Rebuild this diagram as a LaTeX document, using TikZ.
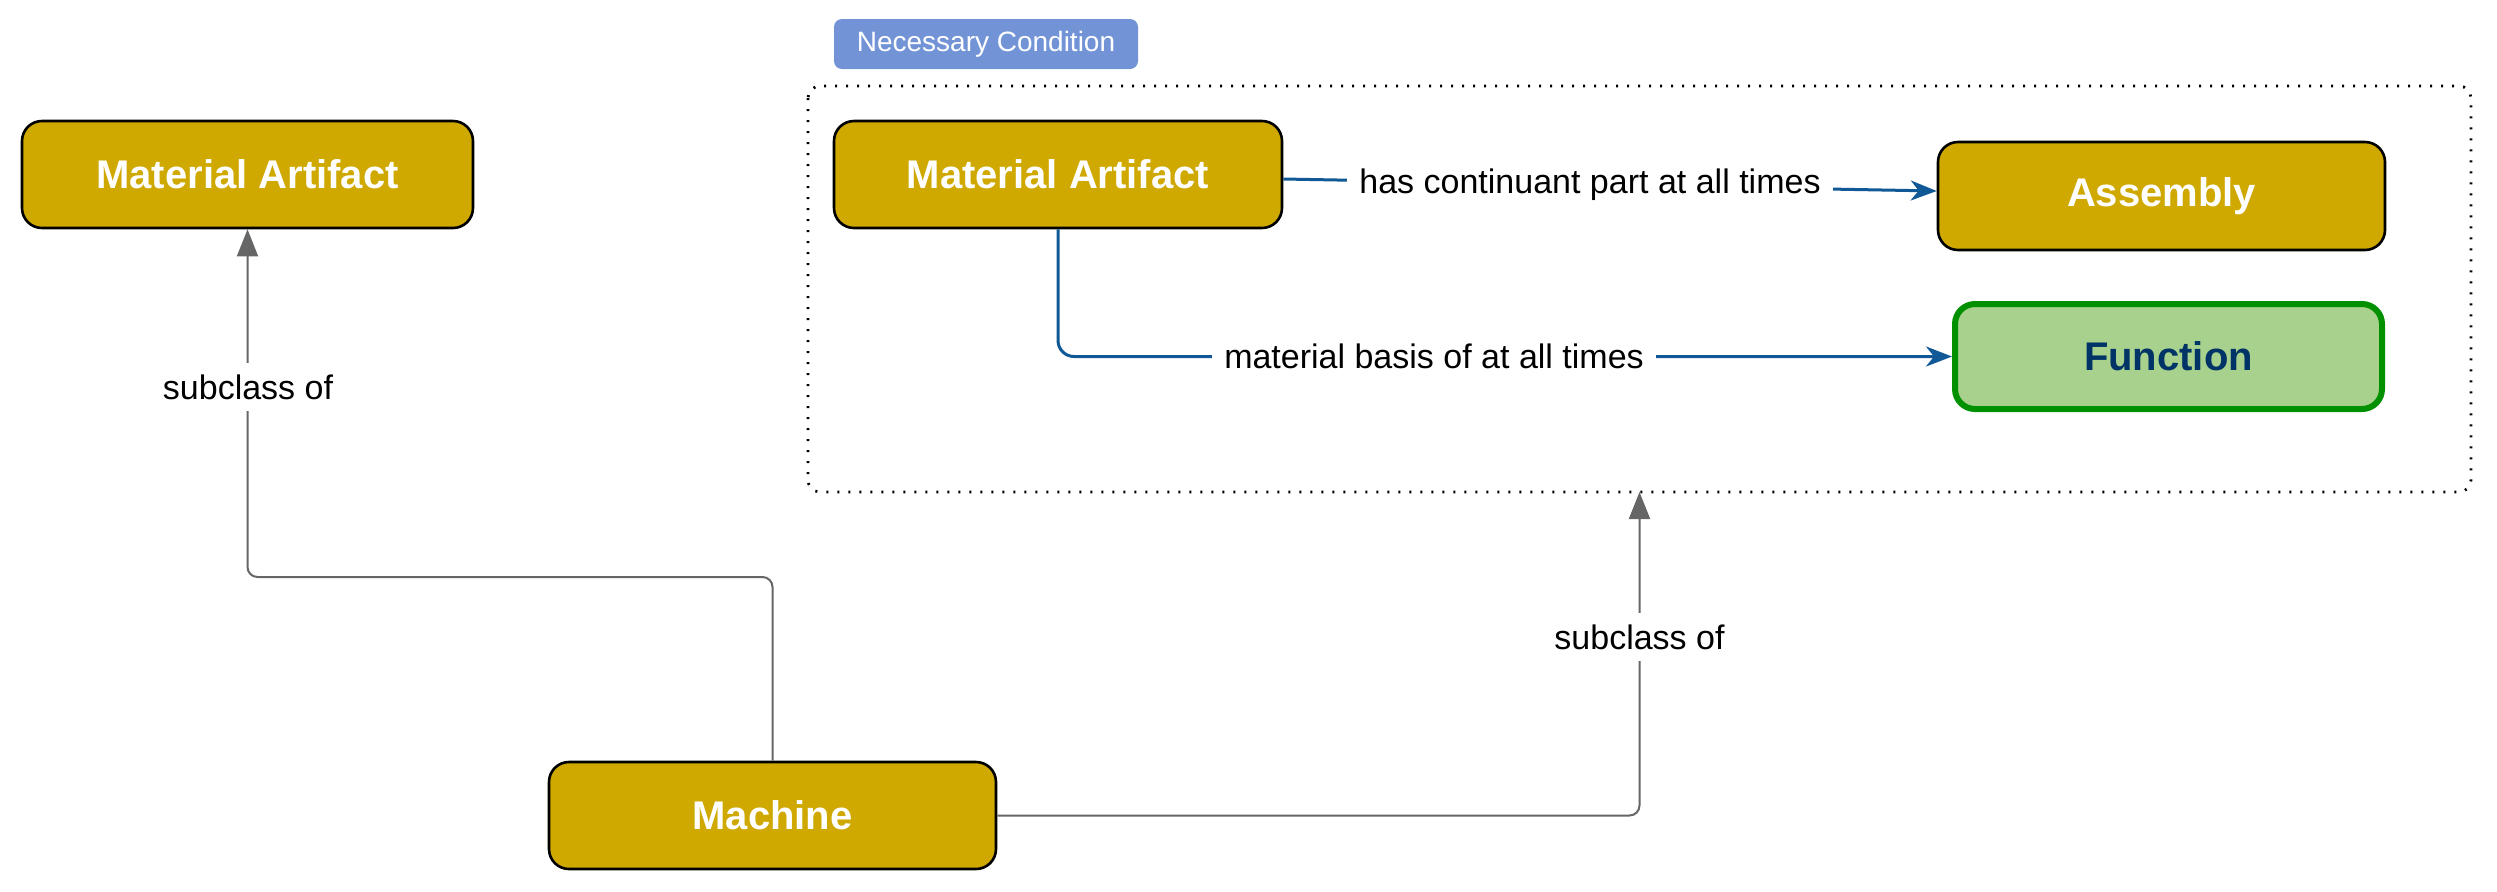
\documentclass[tikz,border=0pt]{standalone}
\usepackage{fontspec}
\setmainfont{Liberation Sans}
\usetikzlibrary{arrows.meta,calc}
\definecolor{gold}{RGB}{207,168,0}
\definecolor{fnfill}{RGB}{169,209,142}
\definecolor{fnborder}{RGB}{0,144,0}
\definecolor{fntext}{RGB}{0,51,102}
\definecolor{ncfill}{RGB}{114,148,214}
\definecolor{blueedge}{RGB}{16,88,150}
\definecolor{grayedge}{RGB}{102,102,102}
\tikzset{
  box/.style={draw=black, line width=1.3pt, fill=gold, rounded corners=10pt,
    text=white, font=\fontsize{20}{24}\selectfont\bfseries,
    minimum height=53.5pt, inner sep=0pt},
  fnbox/.style={draw=fnborder, line width=3pt, fill=fnfill, rounded corners=10pt,
    text=fntext, font=\fontsize{20}{24}\selectfont\bfseries,
    minimum height=52.5pt, minimum width=213.5pt, inner sep=0pt},
  nclabel/.style={fill=ncfill, rounded corners=4pt, text=white,
    font=\fontsize{14}{16}\selectfont, minimum width=152pt, minimum height=25pt, inner sep=0pt},
  container/.style={draw=black, line width=1.4pt, dash pattern=on 1pt off 4.5pt, rounded corners=6pt},
  lbl/.style={fill=white, font=\fontsize{17}{20}\selectfont, inner sep=6pt, text=black},
  subedge/.style={draw=grayedge, line width=1pt, rounded corners=5pt,
    -{Triangle[length=13.5pt,width=10.5pt,fill=grayedge]}},
  reledge/.style={draw=blueedge, line width=1.5pt, rounded corners=8pt,
    -{Stealth[length=13pt,width=10pt,inset=4pt]}},
}
\begin{document}
\begin{tikzpicture}[x=0.5pt,y=-0.5pt]
\useasboundingbox (0,0) rectangle (2497,891);
% container
\node[nclabel] (nc) at (986,44) {Necessary Condition};
\draw[container] (808,86) rectangle (2471,492);
\coordinate (contS) at (1639.5,492);
% nodes
\node[box, minimum width=225.5pt] (ma1) at (247.5,174.5) {Material Artifact};
\node[box, minimum width=224pt] (ma2) at (1058,174.5) {Material Artifact};
\node[box, minimum width=223.5pt, minimum height=54pt] (asm) at (2161.5,196) {Assembly};
\node[fnbox] (fn) at (2168.5,356.5) {Function};
\node[box, minimum width=223.5pt] (mach) at (772.5,815.5) {Machine};
% helper coordinates
\coordinate (j1) at (0,577);
% edges
\draw[subedge] (mach.north) -- (mach.north |- j1) -| (ma1.south);
\node[lbl] (l1) at (248,387) {subclass of};
\draw[subedge] (mach.east) -| (contS);
\node[lbl] (l2) at (1639.5,637) {subclass of};
\draw[reledge] ($(ma2.east)+(0,4.5)$) -- ($(asm.west)+(0,-5)$);
\node[lbl] (l3) at (1590,185) {has continuant part at all times};
\draw[reledge] (ma2.south) |- (fn.west);
\node[lbl] (l4) at (1434,356.5) {material basis of at all times};
\end{tikzpicture}
\end{document}
